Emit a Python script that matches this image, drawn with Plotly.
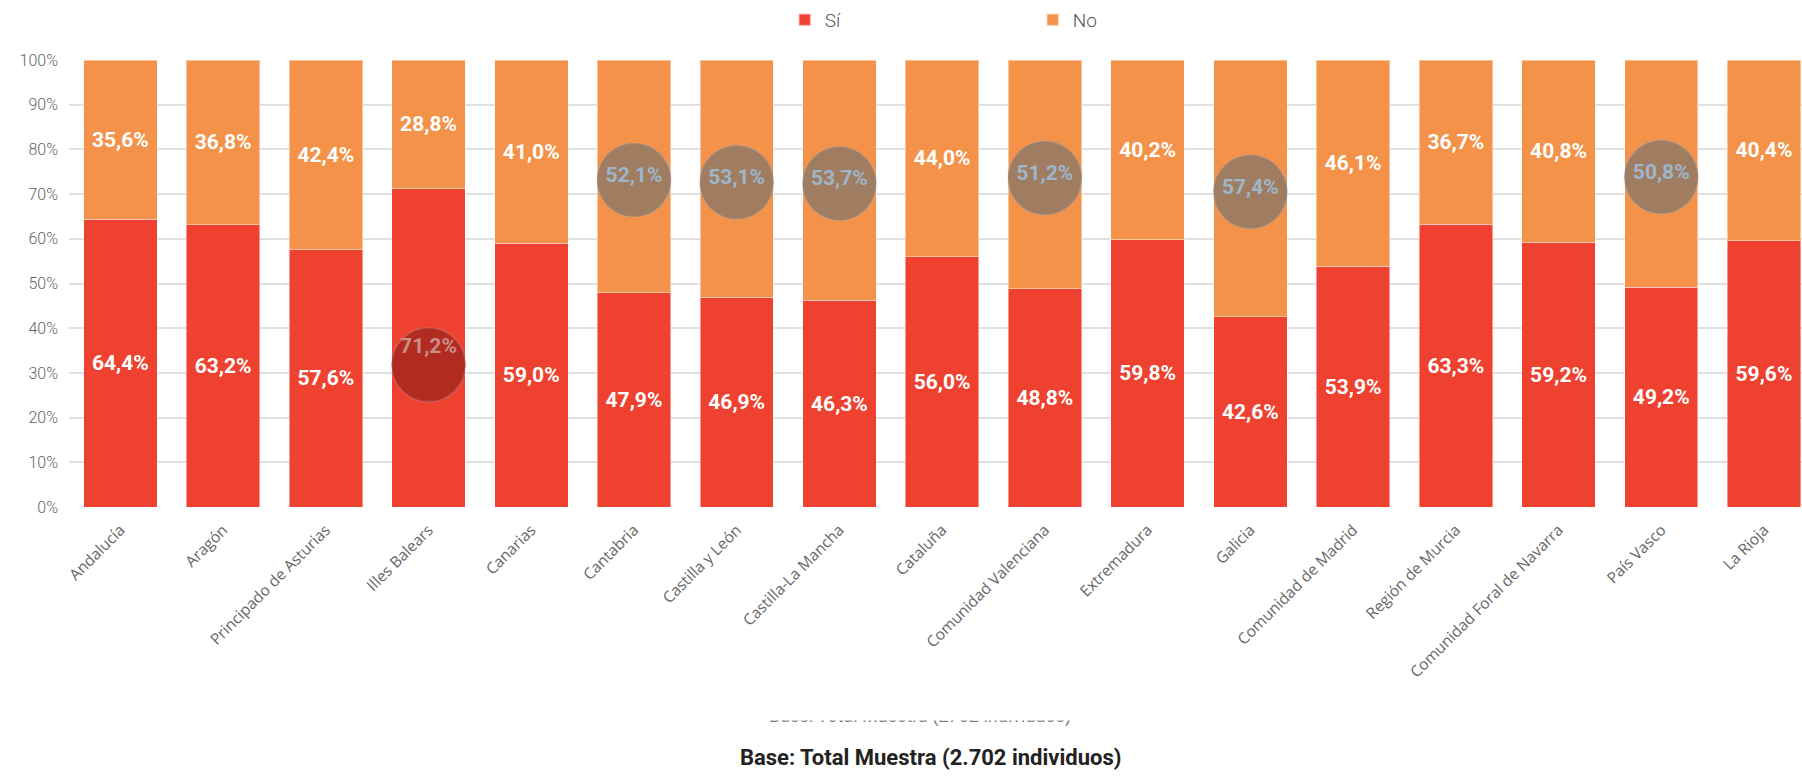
import plotly.graph_objects as go

regiones = ["Andalucía", "Aragón", "Principado de Asturias", "Illes Balears", "Canarias",
            "Cantabria", "Castilla y León", "Castilla-La Mancha", "Cataluña",
            "Comunidad Valenciana", "Extremadura", "Galicia", "Comunidad de Madrid",
            "Región de Murcia", "Comunidad Foral de Navarra", "País Vasco", "La Rioja"]
si = [64.4, 63.2, 57.6, 71.2, 59.0, 47.9, 46.9, 46.3, 56.0, 48.8, 59.8, 42.6, 53.9, 63.3, 59.2, 49.2, 59.6]
no = [35.6, 36.8, 42.4, 28.8, 41.0, 52.1, 53.1, 53.7, 44.0, 51.2, 40.2, 57.4, 46.1, 36.7, 40.8, 50.8, 40.4]
y_ticks = [0, 10, 20, 30, 40, 50, 60, 70, 80, 90, 100]
y_tick_labels = [f"{v}%" for v in y_ticks]

# highlighted labels (circle markers)
resaltados_no = ["Cantabria", "Castilla y León", "Castilla-La Mancha", "Comunidad Valenciana", "Galicia", "País Vasco"]
resaltados_si = ["Illes Balears"]

RED = "#EF4130"
ORANGE = "#F39248"

si_txt_color = ["rgba(0,0,0,0)" if r in resaltados_si else "white" for r in regiones]
no_txt_color = ["rgba(0,0,0,0)" if r in resaltados_no else "white" for r in regiones]

fig = go.Figure()
fig.add_trace(go.Bar(
    x=regiones, y=si, name="Sí", marker=dict(color=RED, line=dict(color="rgba(255,255,255,0.45)", width=1)),
    texttemplate="%{y:.1f}%", textposition="inside", insidetextanchor="middle", textangle=0,
    constraintext="none",
    textfont=dict(family="Roboto", size=21, color=si_txt_color, weight="bold"),
))
fig.add_trace(go.Bar(
    x=regiones, y=no, name="No", marker=dict(color=ORANGE, line=dict(color="rgba(255,255,255,0.45)", width=1)),
    texttemplate="%{y:.1f}%", textposition="inside", insidetextanchor="middle", textangle=0,
    constraintext="none",
    textfont=dict(family="Roboto", size=21, color=no_txt_color, weight="bold"),
))

# circles + overlay labels
cx, cy, cc, tx, ty, tv, tc = [], [], [], [], [], [], []
for i, r in enumerate(regiones):
    if r in resaltados_si:
        mid = si[i] / 2
        cx.append(r); cy.append(mid - 3.8); cc.append("#B12B21")
        tx.append(r); ty.append(mid); tv.append(si[i]); tc.append("#C98E88")
    if r in resaltados_no:
        mid = si[i] + no[i] / 2
        cx.append(r); cy.append(mid - 0.8); cc.append("#A07D60")
        tx.append(r); ty.append(mid); tv.append(no[i]); tc.append("#9DB6CC")

fig.add_trace(go.Scatter(
    x=cx, y=cy, mode="markers", showlegend=False, hoverinfo="skip",
    marker=dict(size=74, color=cc, opacity=1, line=dict(color="rgba(160,190,220,0.18)", width=2)),
))
fig.add_trace(go.Scatter(
    x=tx, y=ty, customdata=tv, mode="text", showlegend=False, hoverinfo="skip",
    texttemplate="%{customdata:.1f}%", textposition="middle center",
    textfont=dict(family="Roboto", size=21, color=tc, weight="bold"),
))

fig.update_layout(
    width=1802, height=779,
    margin=dict(l=69, r=0, t=60, b=272, autoexpand=False),
    barmode="stack", bargap=0.285,
    separators=",.",
    plot_bgcolor="white", paper_bgcolor="white",
    showlegend=True,
    legend=dict(orientation="h", x=0.413, xanchor="left", y=1.0895, yanchor="middle",
                entrywidth=203, entrywidthmode="pixels",
                font=dict(family="Roboto", size=19, color="#555555", weight=300),
                itemsizing="constant", traceorder="normal"),
    xaxis=dict(range=[-0.5, 16.37], tickangle=-45, showgrid=False, zeroline=False,
               ticks="", ticklabelstandoff=10,
               tickfont=dict(family="Open Sans", size=15.5, color="#666666")),
    yaxis=dict(range=[0, 100], tickmode="array", tickvals=y_ticks, ticktext=y_tick_labels,
               showgrid=True, gridcolor="#E0E0E0", gridwidth=1.5, zeroline=False, ticks="",
               ticklabelstandoff=10,
               tickfont=dict(family="Roboto", size=16, color="#666666", weight=300)),
    annotations=[
        dict(text="Base: Total Muestra (2702 individuos)", xref="paper", yref="paper",
             x=0.491, y=-(728.5 - 507) / 447, xanchor="center", yanchor="bottom", showarrow=False,
             font=dict(family="Roboto", size=18, color="#777777")),
        dict(text=" ", xref="paper", yref="paper", x=0.491, y=-(721 - 507) / 447,
             xanchor="center", yanchor="bottom", showarrow=False, bgcolor="white",
             width=440, height=40, font=dict(size=10)),
        dict(text="<b>Base: Total Muestra (2.702 individuos)</b>", xref="paper", yref="paper",
             x=0.497, y=-(757 - 507) / 447, xanchor="center", yanchor="middle", showarrow=False,
             font=dict(family="Roboto", size=22, color="#222222")),
    ],
)

fig.write_html("out.html", config={"displayModeBar": False},
               post_script="document.body.style.margin='0';")
